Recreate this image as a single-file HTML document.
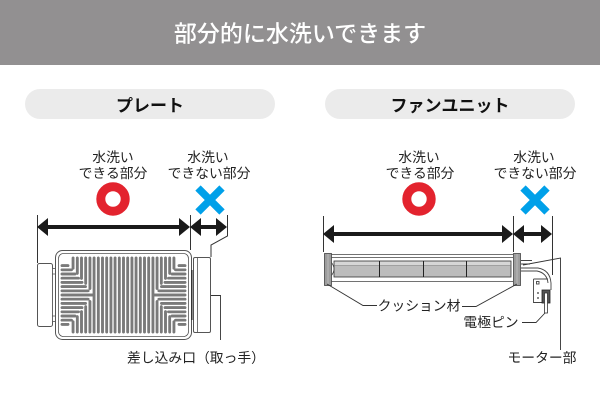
<!DOCTYPE html>
<html><head><meta charset="utf-8">
<style>
html,body{margin:0;padding:0;background:#fff;}
svg{display:block;}
text{font-family:"Liberation Sans","Noto Sans CJK JP",sans-serif;}
</style></head><body>
<svg width="600" height="400" viewBox="0 0 600 400" xmlns="http://www.w3.org/2000/svg">
<rect width="600" height="400" fill="#fff"/>
<rect width="600" height="65" fill="#929091"/>
<text x="300" y="41.5" font-size="23" fill="#fff" text-anchor="middle" font-weight="500">部分的に水洗いできます</text>

<rect x="25" y="89" width="250" height="30" rx="15" fill="#ebebeb"/>
<rect x="325" y="89" width="250" height="30" rx="15" fill="#ebebeb"/>
<text x="150" y="111.5" font-size="17" font-weight="bold" text-anchor="middle" fill="#111">プレート</text>
<text x="450" y="111.5" font-size="17" font-weight="bold" text-anchor="middle" fill="#111">ファンユニット</text>

<!-- labels -->
<g font-size="13.8" fill="#222" text-anchor="middle">
<text x="113" y="162">水洗い</text>
<text x="113" y="178">できる部分</text>
<text x="208" y="162">水洗い</text>
<text x="209" y="178">できない部分</text>
<text x="419" y="162">水洗い</text>
<text x="420" y="178">できる部分</text>
<text x="534" y="162">水洗い</text>
<text x="535" y="178">できない部分</text>
</g>

<!-- marks -->
<circle cx="113" cy="199" r="12.2" fill="none" stroke="#e3232e" stroke-width="9"/>
<circle cx="419" cy="199" r="12.2" fill="none" stroke="#e3232e" stroke-width="9"/>
<g stroke="#00a0e9" stroke-width="7.5">
<path d="M198,188 L222,212 M222,188 L198,212"/>
<path d="M523,188 L547,212 M547,188 L523,212"/>
</g>

<!-- guides and arrows -->
<g stroke="#333" stroke-width="1" fill="none">
<path d="M37.5,215 V263"/>
<path d="M190.5,215 V250"/>
<path d="M227.5,215 V236 L211,245 V257"/>
<path d="M323.5,216 V252"/>
<path d="M513.5,216 V252"/>
<path d="M552.5,216 V275"/>
</g>
<g fill="#1a1a1a">
<rect x="46" y="225" width="136" height="4"/>
<polygon points="37,227 48,218 48,236"/>
<polygon points="190,227 179,218 179,236"/>
<rect x="199" y="225" width="19" height="4"/>
<polygon points="190,227 201,218 201,236"/>
<polygon points="227,227 216,218 216,236"/>

<rect x="332" y="232" width="172" height="4"/>
<polygon points="323,234 334,225 334,243"/>
<polygon points="513,234 502,225 502,243"/>
<rect x="522" y="232" width="22" height="4"/>
<polygon points="513,234 524,225 524,243"/>
<polygon points="552,234 541,225 541,243"/>
</g>

<!-- plate body -->
<g stroke="#555" fill="#fff">
<rect x="37.5" y="263.5" width="15" height="63" rx="2" stroke-width="1"/>
<rect x="52.5" y="268.5" width="3" height="53" stroke-width="0.8"/>
<rect x="193.5" y="257.5" width="17" height="75" rx="1.5" stroke-width="1"/>
<rect x="55.5" y="250.5" width="136" height="89" rx="7" stroke-width="1"/>
<rect x="58.5" y="253.5" width="130" height="83" rx="5" stroke-width="0.8" fill="none"/>
</g>
<g stroke="#555" stroke-width="0.8" fill="none">
<path d="M52,274 H56 M52,316 H56"/>
<path d="M197.5,258 V332"/>
</g>
<path d="M191.8,270 V320" stroke="#333" stroke-width="1.5"/>

<g fill="none" stroke-linecap="round">
<path id="slots" stroke="#7a7a7a" stroke-width="2.7" d="
M94.1,258V332 M98.3,258V332 M102.5,258V332 M106.7,258V332 M110.9,258V332 M115.1,258V332 M119.3,258V332 M123.5,258V332 M127.7,258V332 M131.9,258V332 M136.1,258V332 M140.3,258V332 M144.5,258V332 M148.7,258V332 M152.9,258V332
M73.1,258V268.3 M77.3,258V273.4 M81.5,258V278.4 M85.7,258V283.4 M89.9,258V288.5
M73.1,321.7V332 M77.3,316.6V332 M81.5,311.6V332 M85.7,306.6V332 M89.9,301.5V332
M157.1,258V288.5 M161.3,258V283.4 M165.5,258V278.4 M169.7,258V273.4 M173.9,258V268.3
M157.1,301.5V332 M161.3,306.6V332 M165.5,311.6V332 M169.7,316.6V332 M173.9,321.7V332
M62,295H92.5 M62,290.8H88.2 M62,299.2H88.2 M62,286.6H85.5 M62,303.4H85.5 M62,282.4H82 M62,307.6H82 M62,278.2H78.5 M62,311.8H78.5 M62,274H75 M62,316H75 M62,269.8H71.5 M62,320.2H71.5 M62,265.6H68 M62,324.4H68
M154.5,295H185 M158.8,290.8H185 M158.8,299.2H185 M161.5,286.6H185 M161.5,303.4H185 M165,282.4H185 M165,307.6H185 M168.5,278.2H185 M168.5,311.8H185 M172,274H185 M172,316H185 M175.5,269.8H185 M175.5,320.2H185 M179,265.6H185 M179,324.4H185"/>
<use href="#slots" stroke="#fff" stroke-width="1.5"/>
</g>

<!-- fan unit -->
<g stroke="#444" stroke-width="0.8" fill="none">
<path d="M331,254.5 H513 M331,257.5 H513 M331,281.5 H513"/>
</g>
<rect x="334" y="261" width="177" height="16" fill="#bcbcbc" stroke="#333" stroke-width="0.8"/>
<rect x="334.5" y="261.5" width="176" height="4" fill="#d6d6d6"/>
<path d="M334,265.5 H511" stroke="#777" stroke-width="0.6"/>
<g stroke="#222" stroke-width="1">
<path d="M379.5,261 V277 M423.5,261 V277 M466.5,261 V277"/>
</g>
<path d="M331,262 Q337,269 331,276" stroke="#444" stroke-width="0.8" fill="none"/>
<g fill="#9d9d9d" stroke="#444" stroke-width="0.8">
<rect x="324.5" y="253.5" width="7" height="32"/>
<rect x="513.5" y="253.5" width="7" height="32"/>
</g>
<path d="M328,254 V285 M517,254 V285" stroke="#c4c4c4" stroke-width="0.8"/>

<!-- motor -->
<g stroke="#444" stroke-width="0.9" fill="none">
<path d="M521,260.5 H532 M521,264 H530"/>
<path d="M521,268 H538 Q550,270 551,283 V290"/>
<path d="M521,271 H537 Q547,273 548,283"/>
<path d="M533.5,279 V302.5 H542 M533.5,279 H548"/>
<rect x="536.5" y="281.5" width="2.5" height="2.5"/>
</g>
<rect x="542" y="290" width="8" height="13" fill="#555" stroke="#222" stroke-width="0.8"/>
<rect x="544.5" y="293" width="3" height="20" fill="#fff" stroke="#333" stroke-width="0.8"/>
<circle cx="538" cy="293" r="0.9" fill="#333"/>
<circle cx="538" cy="298" r="0.9" fill="#333"/>

<!-- leaders -->
<g stroke="#333" stroke-width="0.9" fill="none">
<path d="M211,295.5 H220.5 V340"/>
<path d="M327,284 L363,305.5 H377"/>
<path d="M517,284 L476,306.5 H462"/>
<path d="M545,313 L536,322.5 H522"/>
<path d="M523,265 L560.5,258 V350"/>
</g>

<g font-size="13.8" fill="#222" text-anchor="middle">
<text x="196" y="362.5">差し込み口（取っ手）</text>
<text x="419" y="310.5">クッション材</text>
<text x="491" y="327">電極ピン</text>
<text x="542" y="362.5">モーター部</text>
</g>
</svg>
</body></html>
